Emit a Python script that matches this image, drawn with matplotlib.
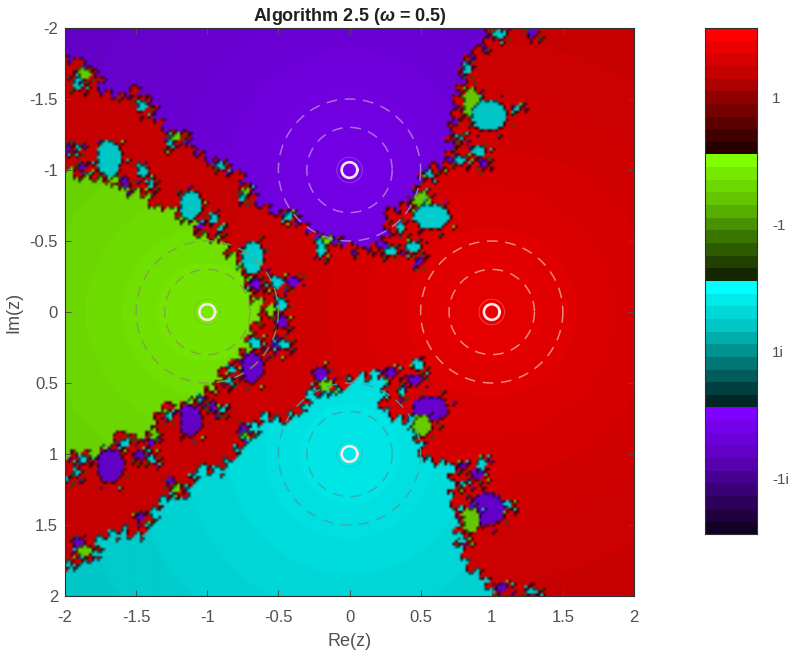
import numpy as np
import matplotlib
matplotlib.use("Agg")
import matplotlib.pyplot as plt
from matplotlib.colors import ListedColormap
from matplotlib.path import Path

plt.rcParams['font.family'] = ['Liberation Sans', 'DejaVu Sans']
plt.rcParams['mathtext.fontset'] = 'custom'
plt.rcParams['mathtext.it'] = 'Liberation Sans:italic:bold'
plt.rcParams['mathtext.rm'] = 'Liberation Sans:bold'

# basins, same order as the colorbar from top to bottom
root_names = ['1', '-1', '1i', '-1i']
root_re = [1, -1, 0, 0]
root_im = [0, 0, 1, -1]
base_colors = [(255, 0, 0), (128, 255, 0), (0, 255, 255), (128, 0, 255)]
bar_shades = [1.0, 0.92, 0.85, 0.78, 0.68, 0.57, 0.46, 0.36, 0.25, 0.15]
map_shades = [0.92, 0.90, 0.88, 0.86, 0.84, 0.82, 0.80, 0.78, 0.30]
band_radii = [0.09, 0.35, 0.6, 0.85, 1.15, 1.5, 1.9]
ring_colors = ['#eea093', '#7fa050', '#3fa5a5', '#b184e0']

# basin outlines (Re, Im)
purple_re = [-2, -1.895, -1.777, -1.73, -1.613, -1.496, -1.379, -1.309, -1.238, -1.145, -1.11, -1.004,
             -0.863, -0.77, -0.676, -0.535, -0.418, -0.325, -0.231, -0.113, -0.067, 0.027, 0.109, 0.238,
             0.25, 0.344, 0.437, 0.484, 0.566, 0.707, 0.683, 0.753, 0.765, 0.812, 0.964, 0.988, -2]
purple_im = [-1.79, -1.74, -1.669, -1.563, -1.528, -1.563, -1.446, -1.329, -1.27, -1.223, -1.117, -1.094,
             -1.047, -0.93, -0.812, -0.718, -0.695, -0.601, -0.531, -0.507, -0.53, -0.413, -0.437, -0.484,
             -0.671, -0.742, -0.742, -0.953, -1.0, -1.047, -1.293, -1.376, -1.61, -1.786, -1.869, -2, -2]
green_re = [-2, -1.895, -1.777, -1.637, -1.567, -1.426, -1.379, -1.238, -1.086, -1.051, -0.91, -0.899,
            -0.77, -0.699, -0.711, -0.653, -0.512, -0.653, -0.711, -0.817, -0.91, -0.934, -1.051, -1.098,
            -1.285, -1.379, -1.367, -1.52, -1.613, -1.637, -1.777, -1.895, -2]
green_im = [-1.0, -0.981, -0.953, -0.918, -0.847, -0.854, -0.765, -0.695, -0.636, -0.554, -0.53, -0.437,
            -0.343, -0.249, -0.131, -0.073, 0.009, 0.056, 0.221, 0.338, 0.455, 0.537, 0.56, 0.62,
            0.679, 0.76, 0.866, 0.866, 0.866, 0.96, 0.983, 0.983, 1.007]
cyan_re = [-2, -1.918, -1.801, -1.73, -1.567, -1.496, -1.402, -1.285, -1.145, -1.098, -0.934, -0.864,
           -0.793, -0.699, -0.606, -0.465, -0.348, -0.254, -0.137, -0.067, 0.004, 0.121, 0.238, 0.25,
           0.344, 0.437, 0.472, 0.542, 0.707, 0.695, 0.777, 0.753, 0.823, 0.964, 0.988, -2]
cyan_im = [1.805, 1.735, 1.723, 1.582, 1.523, 1.571, 1.465, 1.3, 1.254, 1.113, 1.113, 1.042,
           0.948, 0.854, 0.737, 0.749, 0.679, 0.573, 0.537, 0.537, 0.444, 0.444, 0.455, 0.667,
           0.749, 0.749, 0.878, 1.019, 1.066, 1.277, 1.383, 1.653, 1.77, 1.864, 2, 2]

# small islands inside the red band: centre, half sizes, basin
blob_re = [-1.695, -1.913, -1.866, -1.461, -1.461, -1.578, -1.871, -1.906, -1.977, -1.257, -1.215, -0.91,
           -1.395, -1.121, -0.957, -0.746, -0.728, -0.91, -1.051, -0.43, -0.688, -0.512, -0.395, -0.664,
           -0.484, -0.477, -0.203, -0.16,
           -1.684, -1.121, -0.688, -0.512, -0.664, -0.465, -0.828, -0.84, -1.051, -0.957, -0.899, -1.274,
           -1.578, -1.395, -1.876, -1.477, -1.391, -1.918, -1.977, -1.257, -1.22, -1.473, -1.913, -1.866,
           -0.758, -0.728, -0.203, -0.165,
           0.859, 0.976, 1.053, 1.282, 0.824, 1.175, 0.777, 0.905, 0.777, 0.941, 0.561, 0.507, 0.571,
           0.36, 0.449, 0.285, 0.484,
           0.561, 0.507, 0.285, 0.453, 0.484, 0.366, 0.964, 0.852, 0.929, 0.899, 0.801, 0.789, 1.117,
           1.065, 1.281, 0.812]
blob_im = [-1.082, -1.622, -1.681, -1.451, -1.0, -0.911, -1.023, -1.153, -1.164, -1.2, -1.239, -1.03,
           -0.906, -0.754, -0.66, -0.812, -0.859, -0.582, -0.606, -0.676, -0.385, -0.214, -0.214, -0.197,
           -0.056, 0.068, -0.46, -0.512,
           1.078, 0.76, 0.385, 0.232, 0.209, 0.226, 0.408, 0.49, 0.62, 0.671, 0.69, 0.732,
           0.92, 0.92, 1.031, 1.007, 1.037, 1.125, 1.183, 1.207, 1.242, 1.442, 1.625, 1.681,
           0.819, 0.866, 0.444, 0.514,
           -1.47, -1.387, -1.955, -1.967, -1.716, -1.441, -1.235, -1.136, -1.075, -1.047, -0.972, -0.789, -0.676,
           -0.601, -0.46, -0.432, -0.362,
           0.678, 0.796, 0.427, 0.474, 0.373, 0.568, 1.383, 1.465, 1.066, 1.141, 1.211, 1.077, 1.359,
           1.94, 1.963, 1.6]
blob_rx = [0.075, 0.035, 0.04, 0.035, 0.035, 0.033, 0.028, 0.02, 0.02, 0.028, 0.03, 0.03,
           0.02, 0.066, 0.033, 0.028, 0.028, 0.02, 0.02, 0.025, 0.066, 0.042, 0.042, 0.028,
           0.035, 0.035, 0.035, 0.035,
           0.082, 0.07, 0.066, 0.042, 0.033, 0.042, 0.024, 0.024, 0.024, 0.028, 0.024, 0.024,
           0.033, 0.024, 0.033, 0.028, 0.024, 0.02, 0.016, 0.028, 0.03, 0.028, 0.035, 0.047,
           0.024, 0.028, 0.038, 0.042,
           0.058, 0.11, 0.04, 0.03, 0.028, 0.024, 0.024, 0.047, 0.033, 0.024, 0.024, 0.06, 0.11,
           0.028, 0.05, 0.042, 0.028,
           0.11, 0.058, 0.038, 0.05, 0.033, 0.024, 0.115, 0.052, 0.028, 0.047, 0.024, 0.024, 0.024,
           0.038, 0.038, 0.024]
blob_ry = [0.113, 0.05, 0.033, 0.035, 0.042, 0.028, 0.023, 0.02, 0.025, 0.038, 0.023, 0.023,
           0.035, 0.09, 0.033, 0.035, 0.018, 0.015, 0.02, 0.025, 0.1, 0.042, 0.033, 0.042,
           0.042, 0.035, 0.06, 0.023,
           0.105, 0.094, 0.094, 0.047, 0.033, 0.028, 0.024, 0.019, 0.019, 0.033, 0.019, 0.024,
           0.024, 0.024, 0.024, 0.033, 0.024, 0.03, 0.016, 0.033, 0.023, 0.024, 0.035, 0.035,
           0.028, 0.019, 0.056, 0.033,
           0.094, 0.095, 0.025, 0.03, 0.033, 0.02, 0.02, 0.033, 0.028, 0.033, 0.024, 0.055, 0.08,
           0.033, 0.033, 0.028, 0.028,
           0.08, 0.07, 0.033, 0.033, 0.033, 0.028, 0.095, 0.082, 0.042, 0.028, 0.019, 0.019, 0.028,
           0.03, 0.025, 0.015]
blob_basin = [2, 2, 1, 2, 2, 3, 3, 2, 3, 2, 1, 2,
              2, 2, 2, 2, 1, 2, 3, 2, 2, 2, 3, 3,
              2, 3, 2, 1,
              3, 3, 3, 3, 2, 2, 2, 2, 2, 3, 2, 2,
              2, 3, 2, 3, 2, 2, 2, 3, 1, 3, 3, 1,
              3, 1, 3, 1,
              1, 2, 2, 3, 2, 2, 2, 2, 2, 3, 2, 1, 2,
              2, 2, 2, 3,
              3, 1, 3, 3, 2, 2, 3, 1, 2, 3, 2, 3, 2,
              3, 2, 2]

ring_radius = 0.055
halo_radius = 0.09
dash_radii = [0.3, 0.5]

colorbar_tick_rows = [5.53, 15.5, 25.6, 35.6]

grid_size = 213
bump_step = 0.05
bump_sizes = [0.02, 0.032, 0.045, 0.024, 0.036]
blob_grow = 1.15
dark_shade = len(map_shades) - 1

bar_cmap = ListedColormap([(c[0] * s / 255, c[1] * s / 255, c[2] * s / 255) for c in base_colors for s in bar_shades])
map_cmap = ListedColormap([(c[0] * s / 255, c[1] * s / 255, c[2] * s / 255) for c in base_colors for s in map_shades])

# label every cell of the grid with its basin
axis_vals = (np.arange(grid_size) + 0.5) / grid_size * 4 - 2
re_grid, im_grid = np.meshgrid(axis_vals, axis_vals)
cells = np.column_stack([re_grid.ravel(), im_grid.ravel()])
basin = np.zeros(re_grid.shape, dtype=int)
outlines = [(green_re, green_im, 1, 0), (cyan_re, cyan_im, 2, 1), (purple_re, purple_im, 3, 1)]
for out_re, out_im, idx, skip in outlines:
    inside = Path(np.column_stack([out_re, out_im])).contains_points(cells)
    basin[inside.reshape(re_grid.shape)] = idx


def mark_cell(px, py, value):
    row = np.searchsorted(axis_vals, py).clip(0, grid_size - 1)
    col = np.searchsorted(axis_vals, px).clip(0, grid_size - 1)
    basin[row, col] = value


# roughen the outlines: walk along each one, alternately biting into the basin
# and pushing it out, and leave a speck every few steps
for out_re, out_im, idx, skip in outlines:
    walked = 0.0
    count = 0
    for j in range(len(out_re) - 1 - skip):
        seg = np.hypot(out_re[j + 1] - out_re[j], out_im[j + 1] - out_im[j])
        while walked < seg:
            f = walked / seg
            px = out_re[j] + f * (out_re[j + 1] - out_re[j])
            py = out_im[j] + f * (out_im[j + 1] - out_im[j])
            r = bump_sizes[count % len(bump_sizes)]
            basin[np.hypot(re_grid - px, im_grid - py) < r] = 0 if count % 2 == 0 else idx
            count += 1
            if count % 2 == 0:
                mark_cell(px + 0.02, py + 0.02, (idx + count) % 4)
            walked += bump_step
        walked -= seg

for i in range(len(blob_re)):
    rx = blob_rx[i] * blob_grow
    ry = blob_ry[i] * blob_grow
    d = ((re_grid - blob_re[i]) / rx) ** 2 + ((im_grid - blob_im[i]) / ry) ** 2
    basin[d <= 1] = blob_basin[i]
    # little satellites around each island
    for a in range(0, 360, 45):
        ang = np.radians(a + 17 * i)
        mark_cell(blob_re[i] + 1.25 * rx * np.cos(ang) + 0.012 * np.sign(np.cos(ang)),
                  blob_im[i] + 1.25 * ry * np.sin(ang) + 0.012 * np.sign(np.sin(ang)), (blob_basin[i] + a // 45) % 4)

# brightness steps around each root
dist = np.hypot(re_grid - np.take(root_re, basin), im_grid - np.take(root_im, basin))
shade_idx = np.digitize(dist, band_radii)

# a thin dark line on basin borders, broken every few cells
edge = np.zeros(basin.shape, dtype=bool)
edge[1:, :] |= basin[1:, :] != basin[:-1, :]
edge[:, 1:] |= basin[:, 1:] != basin[:, :-1]
rows, cols = np.indices(basin.shape)
shade_idx[edge & ((rows + cols) % 3 != 0)] = dark_shade
values = basin * len(map_shades) + shade_idx

fig = plt.figure(figsize=(7.96, 6.53), dpi=100)
ax = fig.add_axes([65 / 796, 1 - 596 / 653, 569 / 796, 568 / 653])
ax.imshow(values, cmap=map_cmap, vmin=0, vmax=4 * len(map_shades), extent=[-2, 2, 2, -2], aspect='auto',
          interpolation='bilinear', interpolation_stage='rgba')

# rings around the four roots
t = np.linspace(0, 2 * np.pi, 200)
for k in range(4):
    ax.plot(root_re[k] + ring_radius * np.cos(t), root_im[k] + ring_radius * np.sin(t), color='#f8e8ea', lw=1.9)
    ax.plot(root_re[k] + halo_radius * np.cos(t), root_im[k] + halo_radius * np.sin(t), color=ring_colors[k], lw=0.6, alpha=0.5)
    for r in dash_radii:
        ax.plot(root_re[k] + r * np.cos(t), root_im[k] + r * np.sin(t), color=ring_colors[k], lw=1.1, alpha=0.85, dashes=(7, 5))

ax.set_xlim(-2, 2)
ax.set_ylim(2, -2)
ticks = [-2, -1.5, -1, -0.5, 0, 0.5, 1, 1.5, 2]
tick_labels = ['-2', '-1.5', '-1', '-0.5', '0', '0.5', '1', '1.5', '2']
ax.set_xticks(ticks)
ax.set_yticks(ticks)
ax.set_xticklabels(tick_labels)
ax.set_yticklabels(tick_labels)
ax.tick_params(direction='in', length=4, width=0.7, top=True, right=True, labelsize=12, colors='#505050', pad=5)
ax.tick_params(axis='x', pad=10)
for s in ax.spines.values():
    s.set_linewidth(0.8)
    s.set_color('#303030')
ax.set_xlabel('Re(z)', fontsize=13, color='#505050', labelpad=6)
ax.set_ylabel('Im(z)', fontsize=13, color='#505050', labelpad=5)
ax.set_title(r'Algorithm 2.5 ($\omega$ = 0.5)', fontsize=13, fontweight='bold', color='#202020', pad=5)

# colorbar on its own axes, using the same colors
cax = fig.add_axes([705 / 796, 1 - 534 / 653, 52 / 796, 506 / 653])
cax.imshow(np.arange(40)[:, None] + 0.5, cmap=bar_cmap, vmin=0, vmax=40, aspect='auto', extent=[0, 1, 40, 0],
           interpolation='nearest')
cax.set_xticks([])
cax.yaxis.tick_right()
cax.set_yticks(colorbar_tick_rows)
cax.set_yticklabels(root_names)
cax.tick_params(axis='y', length=0, labelsize=11, colors='#505050', pad=11)
for s in cax.spines.values():
    s.set_linewidth(0.8)
    s.set_color('#303030')

fig.savefig('out.png', dpi=100)
